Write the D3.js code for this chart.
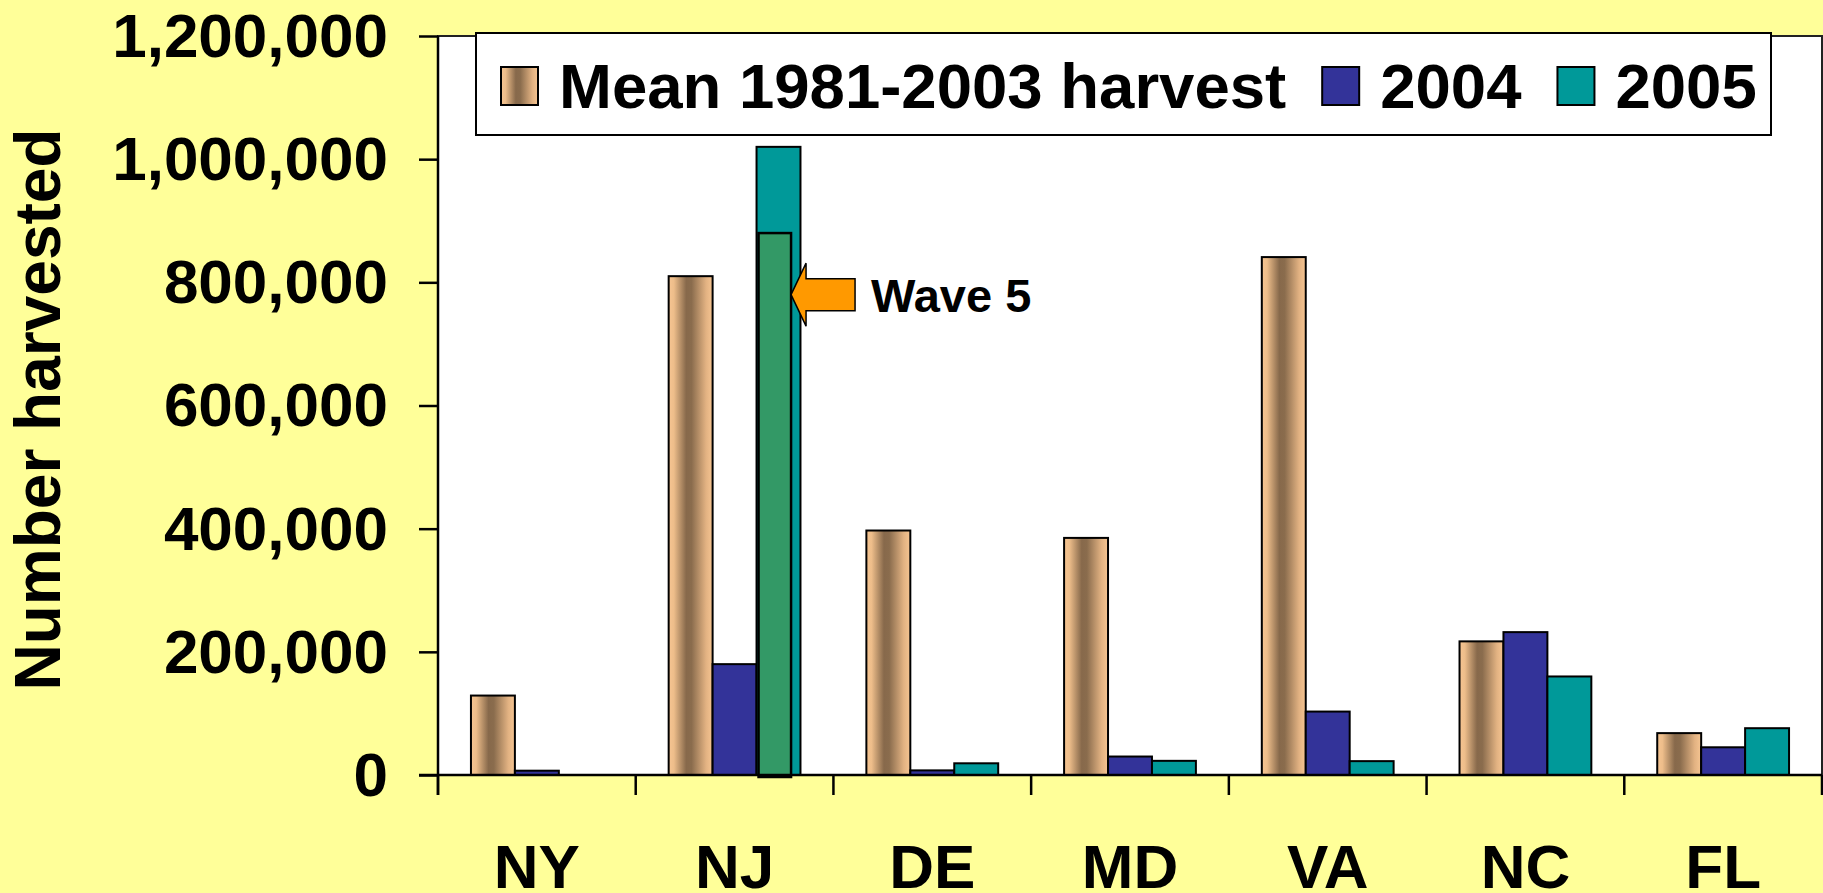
<!DOCTYPE html>
<html>
<head>
<meta charset="utf-8">
<script src="https://cdn.jsdelivr.net/npm/d3@7"></script>
<style>
  html, body { margin: 0; padding: 0; background: #FFFF99; }
  svg { display: block; }
  text { font-family: "Liberation Sans", Arial, Helvetica, sans-serif; font-weight: bold; fill: #000; }
</style>
</head>
<body>
<svg id="chart" width="1823" height="893"></svg>
<script>
// ---------- data ----------
const categories = ["NY", "NJ", "DE", "MD", "VA", "NC", "FL"];
const seriesNames = ["Mean 1981-2003 harvest", "2004", "2005"];
const meanHarvest = [129000, 810000, 397000, 385000, 841000, 217000, 68000];
const harvest2004 = [7000, 180000, 7500, 30000, 103000, 232000, 45000];
const harvest2005 = [0, 1020000, 19000, 23000, 22500, 160000, 76000];
const yTicks = [0, 200000, 400000, 600000, 800000, 1000000, 1200000];
const wave5State = "NJ";
const wave5Value = 880000;
const wave5Label = "Wave 5";
const yTitle = "Number harvested";

// ---------- layout ----------
const svg = d3.select("#chart");
const W = 1823, H = 893;
const plot = { left: 438, right: 1822, top: 36, bottom: 775 };
const colors = ["url(#meanGrad)", "#333399", "#009999"];
const swatchColors = ["url(#meanGradS)", "#333399", "#009999"];

svg.append("rect").attr("width", W).attr("height", H).attr("fill", "#FFFF99");

const defs = svg.append("defs");
function grad(id) {
  const g = defs.append("linearGradient").attr("id", id)
    .attr("x1", "0%").attr("x2", "100%").attr("y1", "0%").attr("y2", "0%");
  g.append("stop").attr("offset", "0%").attr("stop-color", "#F6C592");
  g.append("stop").attr("offset", "12%").attr("stop-color", "#EDBD8A");
  g.append("stop").attr("offset", "40%").attr("stop-color", "#87694B");
  g.append("stop").attr("offset", "52%").attr("stop-color", "#8A6C4D");
  g.append("stop").attr("offset", "85%").attr("stop-color", "#E2B282");
  g.append("stop").attr("offset", "100%").attr("stop-color", "#F6C592");
}
grad("meanGrad"); grad("meanGradS");

const x0 = d3.scaleBand().domain(categories).range([plot.left, plot.right]).padding(0);
const x1 = d3.scaleBand().domain(seriesNames).range([0, x0.bandwidth()])
  .paddingInner(0).paddingOuter(0.75);
const y = d3.scaleLinear().domain([0, 1200000]).range([plot.bottom, plot.top]);

// plot area
svg.append("rect")
  .attr("x", plot.left).attr("y", plot.top)
  .attr("width", plot.right - plot.left).attr("height", plot.bottom - plot.top)
  .attr("fill", "#FFFFFF").attr("stroke", "#222").attr("stroke-width", 2);

// bars
const seriesData = [meanHarvest, harvest2004, harvest2005];
const rows = [];
categories.forEach((c, i) => {
  seriesNames.forEach((s, j) => {
    rows.push({ cat: c, series: s, value: seriesData[j][i], j });
  });
});
svg.append("g").selectAll("rect").data(rows.filter(d => d.value > 0)).join("rect")
  .attr("x", d => x0(d.cat) + x1(d.series))
  .attr("y", d => y(d.value))
  .attr("width", x1.bandwidth())
  .attr("height", d => y(0) - y(d.value))
  .attr("fill", d => colors[d.j])
  .attr("stroke", "#000").attr("stroke-width", 2);

// Wave 5 overlay bar
const wx = x0(wave5State) + x1("2005") + 2;
const ww = x1.bandwidth() * 0.74;
svg.append("rect")
  .attr("x", wx).attr("y", y(wave5Value))
  .attr("width", ww).attr("height", y(0) - y(wave5Value) + 2)
  .attr("fill", "#339966").attr("stroke", "#000").attr("stroke-width", 2.5);

// axes
const yAxis = d3.axisLeft(y).tickValues(yTicks).tickSize(19).tickPadding(31)
  .tickFormat(d3.format(","));
const gy = svg.append("g").attr("transform", `translate(${plot.left},0)`).call(yAxis);
gy.select(".domain").remove();
gy.selectAll(".tick line").attr("stroke", "#000").attr("stroke-width", 2.5);
gy.selectAll(".tick text").attr("font-size", 62).attr("dy", "0.33em")
  .style("font-family", '"Liberation Sans", Arial, sans-serif').style("font-weight", "bold");

svg.append("line").attr("x1", plot.left).attr("x2", plot.left)
  .attr("y1", plot.top).attr("y2", plot.bottom + 20)
  .attr("stroke", "#000").attr("stroke-width", 2.5);
svg.append("line").attr("x1", plot.left - 19).attr("x2", plot.right)
  .attr("y1", plot.bottom).attr("y2", plot.bottom)
  .attr("stroke", "#000").attr("stroke-width", 2.5);

// x boundary ticks
const boundaries = categories.map(c => x0(c)).concat([x0(categories[categories.length - 1]) + x0.bandwidth()]);
svg.append("g").selectAll("line").data(boundaries).join("line")
  .attr("x1", d => d).attr("x2", d => d)
  .attr("y1", plot.bottom).attr("y2", plot.bottom + 20)
  .attr("stroke", "#000").attr("stroke-width", 2.5);

// x labels
svg.append("g").selectAll("text").data(categories).join("text")
  .attr("x", d => x0(d) + x0.bandwidth() / 2)
  .attr("y", 888)
  .attr("text-anchor", "middle")
  .attr("font-size", 62)
  .text(d => d);

// y title
svg.append("text")
  .attr("transform", `translate(60, ${(plot.top + plot.bottom) / 2 + 4}) rotate(-90)`)
  .attr("text-anchor", "middle")
  .attr("font-size", 64)
  .text(yTitle);

// legend
const lg = svg.append("g");
lg.append("rect")
  .attr("x", 476).attr("y", 33).attr("width", 1771 - 476).attr("height", 102)
  .attr("fill", "#FFFFFF").attr("stroke", "#000").attr("stroke-width", 2);
let lx = 501;
seriesNames.forEach((s, j) => {
  lg.append("rect").attr("x", lx).attr("y", 67).attr("width", 37).attr("height", 38)
    .attr("fill", swatchColors[j]).attr("stroke", "#000").attr("stroke-width", 2);
  const t = lg.append("text").attr("x", lx + 37 + 21).attr("y", 108)
    .attr("font-size", 63.5).text(s);
  lx = lx + 37 + 21 + t.node().getComputedTextLength() + 36;
});

// arrow pointing to wave 5 bar
const tipX = wx + ww;
const tipY = y(780000);
const arrowPts = [
  [0, 0], [15, -31.5], [15, -16], [64, -16], [64, 16], [15, 16], [15, 31.5]
];
svg.append("path")
  .attr("d", d3.line()(arrowPts.map(p => [tipX + p[0], tipY + p[1]])) + "Z")
  .attr("fill", "#FF9900").attr("stroke", "#000").attr("stroke-width", 1.5);

svg.append("text")
  .attr("x", tipX + 80).attr("y", tipY + 17)
  .attr("font-size", 47)
  .text(wave5Label);
</script>
</body>
</html>
